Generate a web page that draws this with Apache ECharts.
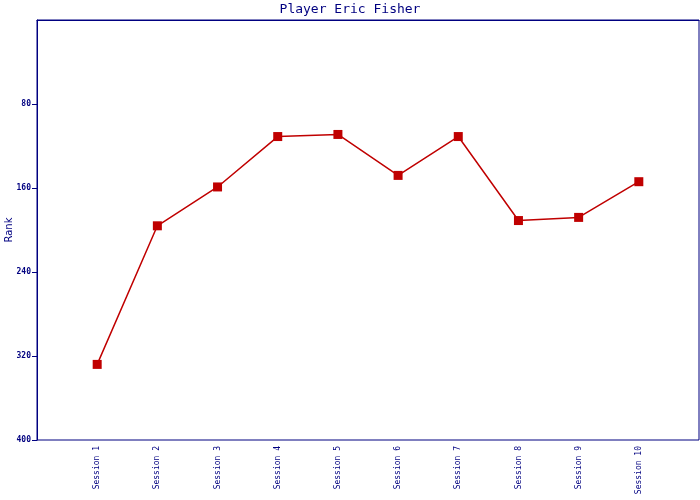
<!DOCTYPE html>
<html><head><meta charset="utf-8">
<script src="https://cdn.jsdelivr.net/npm/echarts@6/dist/echarts.min.js"></script>
<style>html,body{margin:0;padding:0;background:#fff}#c{width:700px;height:500px}</style>
</head><body><div id="c"></div>
<script>
const sessions = ["Session 1","Session 2","Session 3","Session 4","Session 5","Session 6","Session 7","Session 8","Session 9","Session 10"];
const ranks = [328, 196, 159, 111, 109, 148, 111, 191, 188, 154];
const yTicks = [80, 160, 240, 320, 400];
const navy = '#000080';
const chart = echarts.init(document.getElementById('c'));
chart.setOption({
  backgroundColor: '#fff',
  animation: false,
  title: { text: 'Player Eric Fisher', left: 'center', top: -2,
    textStyle: { color: navy, fontFamily: 'DejaVu Sans Mono', fontSize: 13, fontWeight: 'normal' } },
  grid: { left: 37, right: 1, top: 20, bottom: 60, show: true, borderColor: navy, borderWidth: 1,
    containLabel: false, outerBoundsMode: 'none' },
  xAxis: { type: 'value', min: 0, max: sessions.length + 1, interval: 1,
    axisLine: { lineStyle: { color: navy, width: 1 } }, axisTick: { show: false }, splitLine: { show: false },
    axisLabel: { rotate: 90, color: navy, fontFamily: 'DejaVu Sans Mono', fontSize: 8, margin: 6,
      formatter: v => (v >= 1 && v <= sessions.length) ? sessions[v - 1] : '' } },
  yAxis: { type: 'value', inverse: true, min: 0, max: 400, interval: 80, name: 'Rank',
    nameLocation: 'middle', nameGap: 23, nameRotate: 90, nameMoveOverlap: false,
    nameTextStyle: { color: navy, fontFamily: 'DejaVu Sans', fontSize: 10 },
    axisLine: { show: true, lineStyle: { color: navy, width: 1 } },
    axisTick: { show: true, length: 5, lineStyle: { color: navy, width: 1 }, customValues: yTicks }, splitLine: { show: false },
    axisLabel: { color: navy, fontFamily: 'DejaVu Sans Mono', fontSize: 8, fontWeight: 'bold', margin: 6,
      customValues: yTicks, formatter: v => String(v) } },
  series: [{ type: 'line', data: ranks.map((r, i) => [i + 1, r]),
    symbol: 'rect', symbolSize: 9, lineStyle: { color: '#C00000', width: 1.5 },
    itemStyle: { color: '#C00000' } }]
});
</script></body></html>
